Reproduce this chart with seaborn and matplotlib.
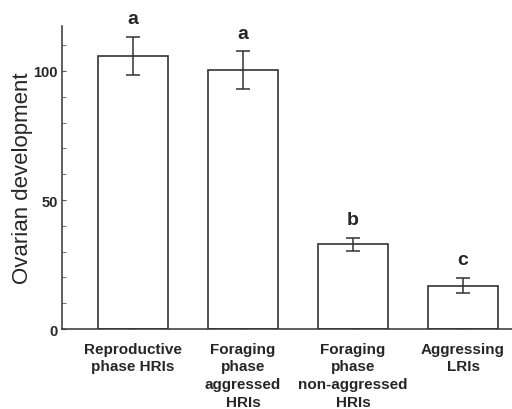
import matplotlib
matplotlib.use('Agg')
import matplotlib.pyplot as plt
from matplotlib.ticker import MultipleLocator
import pandas as pd
import seaborn as sns

# Data
groups = ['Reproductive\nphase HRIs', 'Foraging\nphase\naggressed\nHRIs',
          'Foraging\nphase\nnon-aggressed\nHRIs', 'Aggressing\nLRIs']
means = [105.7, 100.3, 32.8, 16.8]
errors = [7.4, 7.3, 2.4, 2.9]
letters = ['a', 'a', 'b', 'c']

df = pd.DataFrame({'group': groups, 'value': means})

sns.set_style('ticks')
plt.rcParams['font.family'] = ['Liberation Sans', 'DejaVu Sans']

fig = plt.figure(figsize=(5.12, 4.1), dpi=100)
ax = fig.add_axes([0.121, 0.195, 0.879, 0.739])

sns.barplot(data=df, x='group', y='value', color='white', edgecolor='#333333',
            linewidth=1.2, width=0.64, errorbar=None, ax=ax)

# Error bars
ax.errorbar(range(len(means)), means, yerr=errors, fmt='none', ecolor='#333333',
            elinewidth=1.1, capsize=5, capthick=1.1)

# Significance letters
for i, (m, e, l) in enumerate(zip(means, errors, letters)):
    ax.annotate(l, (i, m + e), xytext=(0, 7), textcoords='offset points',
                ha='center', va='bottom', fontsize=14, fontweight='bold')

ax.set_xlim(-0.645, 3.445)
ax.set_ylim(0, 117.4)
ax.set_yticks([0, 50, 100])
ax.yaxis.set_minor_locator(MultipleLocator(10))
ax.tick_params(axis='y', which='both', direction='in', length=3, color='#555555',
               labelsize=10.5, pad=3)
ax.tick_params(axis='x', direction='in', length=3, color='#555555', labelsize=11, pad=9)
for t in ax.get_xticklabels() + ax.get_yticklabels():
    t.set_fontweight('bold')
for t in ax.get_xticklabels():
    t.set_linespacing(1.35)

ax.set_xlabel('')
ax.set_ylabel('Ovarian development', fontsize=16, labelpad=0)

sns.despine(ax=ax)
for s in ['left', 'bottom']:
    ax.spines[s].set_color('#333333')
    ax.spines[s].set_linewidth(1.1)

fig.savefig('out.png', dpi=100)
